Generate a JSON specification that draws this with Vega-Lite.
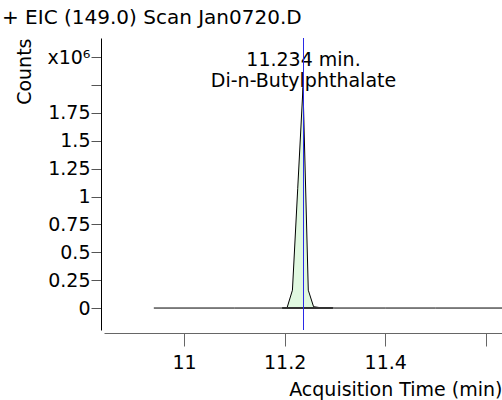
{
  "$schema": "https://vega.github.io/schema/vega-lite/v6.json",
  "width": 398,
  "height": 292,
  "autosize": {"type": "none"},
  "padding": {"left": 104, "top": 38, "right": 0, "bottom": 70},
  "background": "white",
  "title": {
    "text": "+ EIC (149.0) Scan Jan0720.D",
    "anchor": "start",
    "frame": "group",
    "dx": -102,
    "dy": 14,
    "offset": 8,
    "baseline": "alphabetic",
    "font": "DejaVu Sans",
    "fontSize": 20,
    "fontWeight": "normal",
    "color": "black"
  },
  "config": {
    "view": {"stroke": null},
    "font": "DejaVu Sans",
    "axis": {
      "labelFont": "DejaVu Sans",
      "titleFont": "DejaVu Sans",
      "labelFontSize": 19,
      "titleFontSize": 19,
      "labelColor": "black",
      "titleColor": "black",
      "titleFontWeight": "normal",
      "labelOverlap": false,
      "labelFlush": false,
      "labelBound": false,
      "grid": false
    }
  },
  "datasets": {
    "trace": [
      {"rt": 10.94, "counts": 0},
      {"rt": 11.0, "counts": 0},
      {"rt": 11.1, "counts": 0},
      {"rt": 11.195, "counts": 0},
      {"rt": 11.205, "counts": 0.005},
      {"rt": 11.2155, "counts": 0.16},
      {"rt": 11.226, "counts": 1.07},
      {"rt": 11.2365, "counts": 1.98},
      {"rt": 11.247, "counts": 0.16},
      {"rt": 11.2575, "counts": 0.012},
      {"rt": 11.268, "counts": 0.005},
      {"rt": 11.279, "counts": 0.002},
      {"rt": 11.3, "counts": 0},
      {"rt": 11.4, "counts": 0},
      {"rt": 11.5, "counts": 0},
      {"rt": 11.632, "counts": 0}
    ],
    "integration": [
      {"rt": 11.195, "counts": 0},
      {"rt": 11.296, "counts": 0}
    ],
    "peak": [
      {"rt": 11.2375, "counts": 1.98, "time": "11.234 min.", "name": "Di-n-Butylphthalate"}
    ]
  },
  "layer": [
    {
      "encoding": {
        "x": {
          "field": "rt",
          "type": "quantitative",
          "scale": {"domain": [10.841, 11.632], "nice": false, "zero": false},
          "axis": {
            "title": "Acquisition Time (min)",
            "titleAnchor": "end",
            "titlePadding": 8,
            "values": [11, 11.2, 11.4, 11.6],
            "labelExpr": "datum.value > 11.5 ? '' : format(datum.value, '~g')",
            "offset": 3,
            "domainColor": "#666666",
            "tickColor": "#666666",
            "tickSize": 13,
            "labelPadding": 7
          }
        },
        "y": {
          "field": "counts",
          "type": "quantitative",
          "scale": {"domain": [-0.197, 2.422], "nice": false, "zero": false},
          "axis": {
            "title": "Counts",
            "titleAngle": 270,
            "titleAlign": "right",
            "titleBaseline": "middle",
            "titleX": -77,
            "titleY": 0,
            "values": [0, 0.25, 0.5, 0.75, 1, 1.25, 1.5, 1.75, 2, 2.25],
            "labelExpr": "datum.value == 2.25 ? 'x10⁶' : datum.value == 2 ? '' : format(datum.value, '~g')",
            "labelOverlap": false,
            "offset": 3,
            "domainColor": "black",
            "tickColor": "#555555",
            "tickSize": 10,
            "labelPadding": 1
          }
        }
      },
      "layer": [
        {
          "data": {"name": "trace"},
          "transform": [{"filter": "datum.rt >= 11.205 && datum.rt <= 11.2575"}],
          "mark": {"type": "area", "color": "#e0f8e0", "opacity": 1}
        },
        {
          "data": {"name": "trace"},
          "mark": {"type": "line", "color": "black", "strokeWidth": 1}
        },
        {
          "data": {"name": "integration"},
          "mark": {"type": "line", "color": "#333333", "strokeWidth": 2}
        },
        {
          "data": {"name": "peak"},
          "mark": {"type": "text", "font": "DejaVu Sans", "fontSize": 19, "color": "black", "align": "center", "baseline": "alphabetic", "dy": -21},
          "encoding": {"text": {"field": "time"}}
        },
        {
          "data": {"name": "peak"},
          "mark": {"type": "text", "font": "DejaVu Sans", "fontSize": 19, "color": "black", "align": "center", "baseline": "alphabetic", "dy": 0},
          "encoding": {"text": {"field": "name"}}
        }
      ]
    },
    {
      "data": {"name": "peak"},
      "mark": {"type": "rule", "stroke": "#2a2ae6", "strokeWidth": 1},
      "encoding": {
        "x": {"field": "rt", "type": "quantitative"}
      }
    }
  ]
}
